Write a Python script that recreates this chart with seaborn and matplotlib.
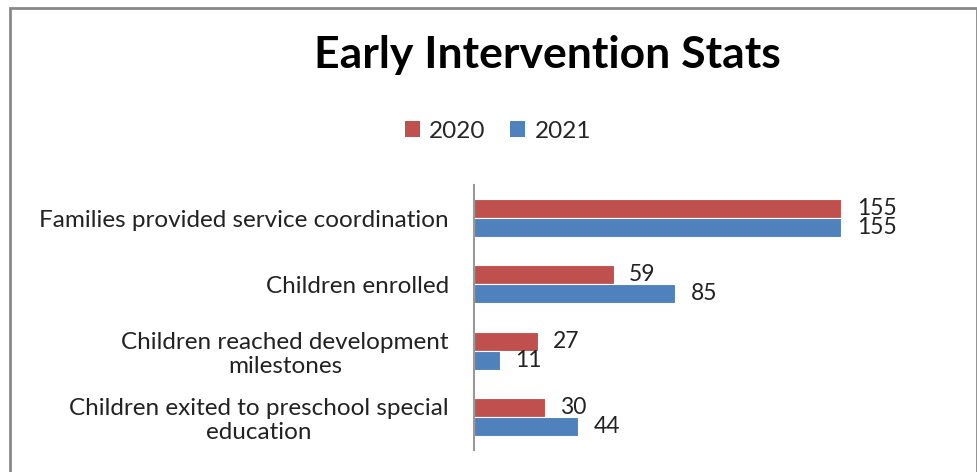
import pandas as pd
import seaborn as sns
import matplotlib.pyplot as plt
from matplotlib.patches import Rectangle, Patch

categories = [
    "Families provided service coordination",
    "Children enrolled",
    "Children reached development\nmilestones",
    "Children exited to preschool special\neducation",
]
years = ["2020", "2021"]
values_2020 = [155, 59, 27, 30]
values_2021 = [155, 85, 11, 44]
colors = {"2020": "#C0504D", "2021": "#4F81BD"}

df = pd.DataFrame({
    "category": categories * 2,
    "year": ["2020"] * 4 + ["2021"] * 4,
    "value": values_2020 + values_2021,
})

sns.set_style("white")
plt.rcParams["font.family"] = ["Lato", "DejaVu Sans"]

fig = plt.figure(figsize=(9.78, 4.72), dpi=100)
ax = fig.add_axes([474 / 978, 22 / 472, 474 / 978, 265 / 472])

sns.barplot(data=df, x="value", y="category", hue="year", hue_order=years,
            palette=colors, saturation=1, orient="h", width=0.57, ax=ax,
            legend=False, edgecolor="white", linewidth=0.8)

for c in ax.containers:
    ax.bar_label(c, padding=11, fontsize=16.5, color="#222222")

ax.set_xlim(0, 200)
ax.set_xlabel("")
ax.set_ylabel("")
ax.set_xticks([])
ax.tick_params(axis="y", length=0, pad=18, labelsize=17.5, labelcolor="#222222")
for lab in ax.get_yticklabels():
    lab.set_multialignment("center")
for s in ["top", "right", "bottom"]:
    ax.spines[s].set_visible(False)
ax.spines["left"].set_color("#999999")
ax.spines["left"].set_linewidth(1.5)

fig.text(547 / 978, 1 - 68 / 472, "Early Intervention Stats", ha="center",
         va="baseline", fontsize=32, fontweight="bold", color="black")

handles = [Patch(facecolor=colors[y], edgecolor="none", label=y) for y in years]
fig.legend(handles=handles, loc="center", bbox_to_anchor=(498 / 978, 1 - 131 / 472),
           ncol=2, frameon=False, fontsize=17.5, handlelength=0.6, handleheight=0.6,
           handletextpad=0.4, columnspacing=1.0)

fig.add_artist(Rectangle((10 / 978, -0.05), 967 / 978, 1.05 - 8 / 472,
                         transform=fig.transFigure, fill=False,
                         edgecolor="#888888", linewidth=2, clip_on=False))

fig.savefig("out.png", dpi=100)
